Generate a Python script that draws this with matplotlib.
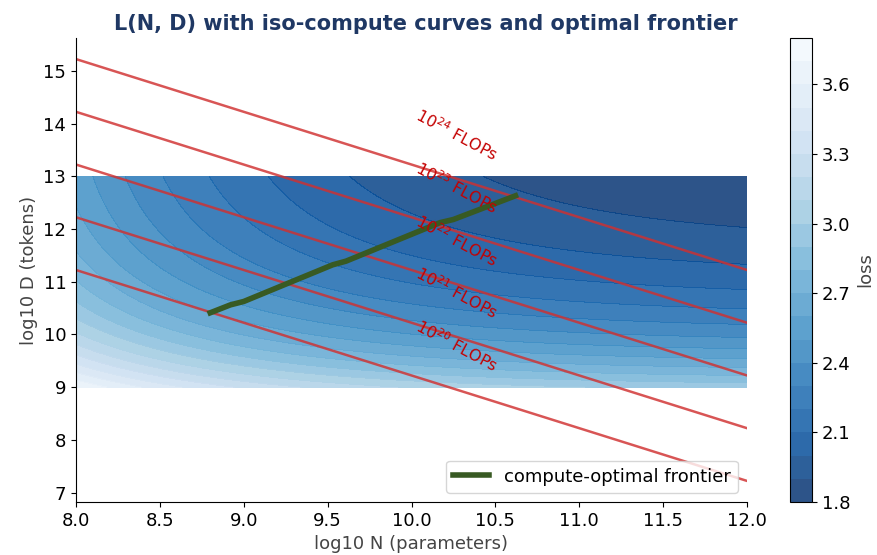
import numpy as np
import matplotlib
matplotlib.use("Agg")
import matplotlib.pyplot as plt

# Chinchilla-style loss parameters: L = E + A/N^alpha + B/D^beta
E_loss = 1.69
A_coef = 406.4
B_coef = 410.7
alpha_exp = 0.34
beta_exp = 0.28

# grid ranges (log10)
logN_range = [8.0, 12.0]
logD_range = [9.0, 13.0]

# compute budgets (log10 FLOPs) for iso-compute lines, C = 6 N D
compute_logs = [20, 21, 22, 23, 24]

# compute-optimal frontier
frontier_logN = [8.80, 8.92, 9.00, 9.53, 9.61, 10.17, 10.25, 10.62]
frontier_logD = [10.41, 10.56, 10.625, 11.32, 11.39, 12.12, 12.18, 12.63]

loss_levels = np.linspace(1.8, 3.8, 21)
cbar_ticks = [1.8, 2.1, 2.4, 2.7, 3.0, 3.3, 3.6]

fig = plt.figure(figsize=(8.78, 5.55), dpi=100)
ax = fig.add_axes([76/878, 1-502/555, (747-76)/878, (502-38)/555])
cax = fig.add_axes([790/878, 1-502/555, 22/878, (502-38)/555])

ln = np.linspace(logN_range[0], logN_range[1], 300)
ld = np.linspace(logD_range[0], logD_range[1], 300)
LN, LD = np.meshgrid(ln, ld)
L = E_loss + A_coef / (10**LN)**alpha_exp + B_coef / (10**LD)**beta_exp

cf = ax.contourf(LN, LD, L, levels=loss_levels, cmap="Blues_r", alpha=0.85)

xs = np.linspace(logN_range[0], logN_range[1], 50)
for c in compute_logs:
    yline = c - np.log10(6) - xs
    ax.plot(xs, yline, color="#d03030", alpha=0.82, lw=1.8)
    xl = 10.27
    ax.text(xl, c - np.log10(6) - xl + 0.83, r"$10^{%d}$ FLOPs" % c,
            color="#c40000", fontsize=11.5, rotation=-28,
            ha="center", va="center", rotation_mode="anchor")

ax.plot(frontier_logN, frontier_logD, color="#385a23", lw=4,
        label="compute-optimal frontier")

ax.set_title("L(N, D) with iso-compute curves and optimal frontier",
             fontsize=15, fontweight="bold", color="#1f3864", x=0.521)
ax.set_xlabel("log10 N (parameters)", fontsize=13, color="#444444")
ax.set_ylabel("log10 D (tokens)", fontsize=13, color="#444444")
ax.tick_params(labelsize=13)
ax.spines["top"].set_visible(False)
ax.spines["right"].set_visible(False)
ax.legend(loc="lower right", fontsize=13)

cb = fig.colorbar(cf, cax=cax, ticks=cbar_ticks)
cb.ax.tick_params(labelsize=13)
cb.set_label("loss", fontsize=13, color="#444444")

fig.savefig("out.png", dpi=100)
